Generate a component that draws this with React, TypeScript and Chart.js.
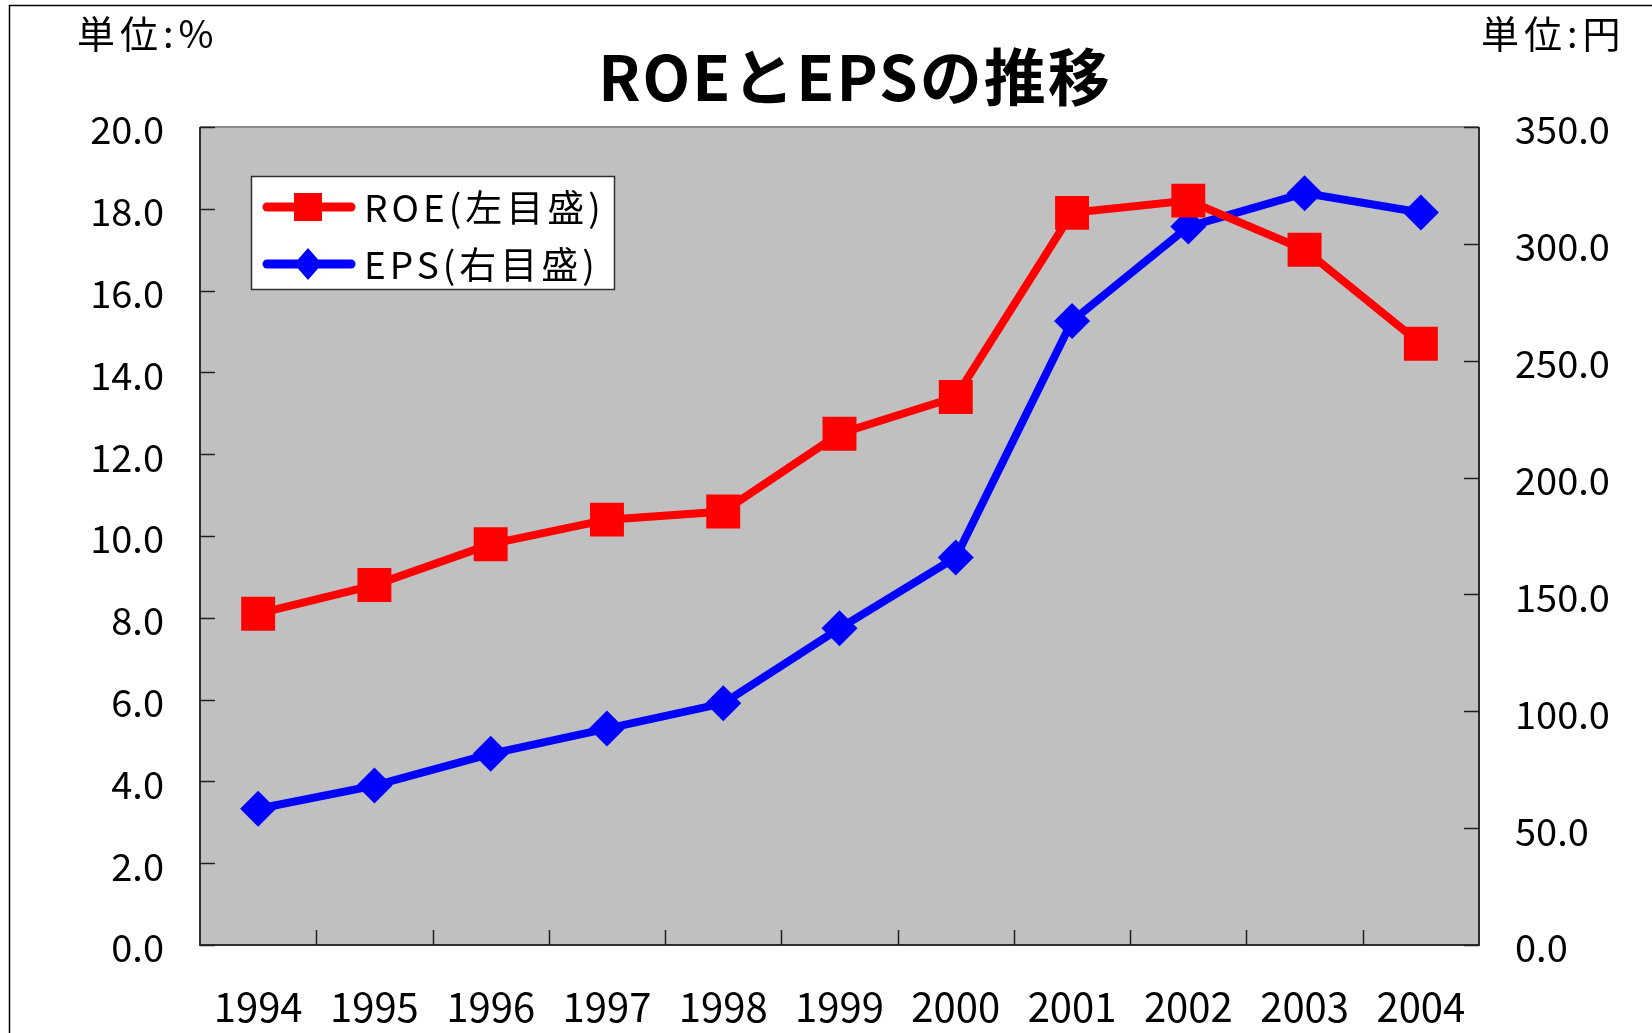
import React, { useEffect, useRef } from 'react';
import { Chart, registerables } from 'chart.js';

Chart.register(...registerables);

const years = ['1994', '1995', '1996', '1997', '1998', '1999', '2000', '2001', '2002', '2003', '2004'];
const roeValues = [8.1, 8.8, 9.8, 10.4, 10.6, 12.5, 13.4, 17.9, 18.2, 17.0, 14.7];
const epsValues = [58.3, 68.2, 81.8, 92.6, 103.4, 135.5, 165.8, 267.0, 307.4, 321.7, 313.4];
const titleText = 'ROEとEPSの推移';
const leftUnit = '単位:%';
const rightUnit = '単位:円';
const roeLabel = 'ROE(左目盛)';
const epsLabel = 'EPS(右目盛)';

const FONT = "'Noto Sans CJK JP', 'Noto Sans', sans-serif";
const RED = '#FF0000';
const BLUE = '#0000FF';

const decorPlugin = {
  id: 'decor',
  beforeDraw(chart: any) {
    const { ctx, chartArea: a } = chart;
    ctx.save();
    ctx.fillStyle = '#FFFFFF';
    ctx.fillRect(0, 0, chart.width, chart.height);
    ctx.fillStyle = '#C0C0C0';
    ctx.fillRect(a.left, a.top, a.right - a.left, a.bottom - a.top);
    ctx.restore();
  },
  beforeDatasetsDraw(chart: any) {
    const { ctx, chartArea: a, scales } = chart;
    ctx.save();
    // plot border
    ctx.lineWidth = 2;
    ctx.strokeStyle = '#8A8A8A';
    ctx.beginPath();
    ctx.moveTo(a.left, a.top);
    ctx.lineTo(a.right, a.top);
    ctx.stroke();
    ctx.strokeStyle = '#303030';
    ctx.beginPath();
    ctx.moveTo(a.left, a.top);
    ctx.lineTo(a.left, a.bottom);
    ctx.lineTo(a.right, a.bottom);
    ctx.lineTo(a.right, a.top);
    ctx.stroke();
    // inward tick marks
    ctx.lineWidth = 1.5;
    ctx.strokeStyle = '#202020';
    const tl = 15;
    ctx.beginPath();
    scales.y.ticks.forEach((t: any) => {
      const p = Math.round(scales.y.getPixelForValue(t.value)) + 0.5;
      ctx.moveTo(a.left, p);
      ctx.lineTo(a.left + tl, p);
    });
    scales.y1.ticks.forEach((t: any) => {
      const p = Math.round(scales.y1.getPixelForValue(t.value)) + 0.5;
      ctx.moveTo(a.right, p);
      ctx.lineTo(a.right - tl, p);
    });
    const xs = scales.x;
    for (let i = 1; i < years.length; i++) {
      const p = Math.round((xs.getPixelForTick(i - 1) + xs.getPixelForTick(i)) / 2) + 0.5;
      ctx.moveTo(p, a.bottom);
      ctx.lineTo(p, a.bottom - tl);
    }
    ctx.stroke();
    ctx.restore();
  },
  afterDraw(chart: any) {
    const { ctx } = chart;
    ctx.save();
    // outer border
    ctx.strokeStyle = '#000000';
    ctx.lineWidth = 1.5;
    ctx.beginPath();
    ctx.moveTo(9.5, chart.height);
    ctx.lineTo(9.5, 5.5);
    ctx.lineTo(chart.width, 5.5);
    ctx.stroke();

    // title
    ctx.fillStyle = '#000000';
    ctx.textBaseline = 'middle';
    ctx.textAlign = 'center';
    ctx.font = `bold 62px ${FONT}`;
    (ctx as any).letterSpacing = '2px';
    ctx.fillText(titleText, 855, 77);

    // units
    ctx.font = `38px ${FONT}`;
    (ctx as any).letterSpacing = '5px';
    ctx.textAlign = 'left';
    ctx.fillText(leftUnit, 77, 34);
    ctx.fillText(rightUnit, 1481, 34);

    // legend
    const lx = 251.5, ly = 176.5, lw = 363, lh = 113;
    ctx.fillStyle = '#FFFFFF';
    ctx.fillRect(lx, ly, lw, lh);
    ctx.strokeStyle = '#303030';
    ctx.lineWidth = 1.5;
    ctx.strokeRect(lx, ly, lw, lh);
    const items = [
      { label: roeLabel, color: RED, shape: 'rect', y: 207 },
      { label: epsLabel, color: BLUE, shape: 'diamond', y: 264 },
    ];
    items.forEach((it) => {
      ctx.strokeStyle = it.color;
      ctx.lineWidth = 9;
      ctx.lineCap = 'round';
      ctx.beginPath();
      ctx.moveTo(267, it.y);
      ctx.lineTo(351, it.y);
      ctx.stroke();
      ctx.fillStyle = it.color;
      const cx = 308;
      if (it.shape === 'rect') {
        ctx.fillRect(cx - 14, it.y - 14, 28, 28);
      } else {
        ctx.beginPath();
        ctx.moveTo(cx, it.y - 16);
        ctx.lineTo(cx + 14, it.y);
        ctx.lineTo(cx, it.y + 16);
        ctx.lineTo(cx - 14, it.y);
        ctx.closePath();
        ctx.fill();
      }
      ctx.fillStyle = '#000000';
      ctx.font = `37px ${FONT}`;
      (ctx as any).letterSpacing = '4px';
      ctx.textAlign = 'left';
      ctx.textBaseline = 'middle';
      ctx.fillText(it.label, 364, it.y + 1);
    });
    ctx.restore();
  },
};

export default function App() {
  const ref = useRef<HTMLCanvasElement | null>(null);
  useEffect(() => {
    if (!ref.current) return;
    const chart = new Chart(ref.current, {
      type: 'line',
      data: {
        labels: years,
        datasets: [
          {
            label: roeLabel,
            data: roeValues,
            yAxisID: 'y',
            borderColor: RED,
            backgroundColor: RED,
            borderWidth: 8,
            pointStyle: 'rect',
            pointRadius: 24,
            pointHoverRadius: 24,
            pointBackgroundColor: RED,
            pointBorderColor: RED,
            pointBorderWidth: 0,
            tension: 0,
          },
          {
            label: epsLabel,
            data: epsValues,
            yAxisID: 'y1',
            borderColor: BLUE,
            backgroundColor: BLUE,
            borderWidth: 8,
            pointStyle: 'rectRot',
            pointRadius: 18,
            pointHoverRadius: 18,
            pointBackgroundColor: BLUE,
            pointBorderColor: BLUE,
            pointBorderWidth: 0,
            tension: 0,
          },
        ],
      },
      options: {
        animation: false,
        responsive: false,
        maintainAspectRatio: false,
        devicePixelRatio: 1,
        layout: { padding: { top: 127, left: 0, right: 0, bottom: 0 } },
        plugins: {
          legend: { display: false },
          title: { display: false },
          tooltip: { enabled: false },
        },
        scales: {
          x: {
            type: 'category',
            offset: true,
            grid: { display: false, drawTicks: false },
            border: { display: false },
            ticks: {
              color: '#000000',
              font: { family: FONT, size: 40 },
              padding: 38,
              maxRotation: 0,
              autoSkip: false,
            },
            afterFit: (s: any) => { s.height = 88; },
          },
          y: {
            position: 'left',
            min: 0,
            max: 20,
            grid: { display: false, drawTicks: false },
            border: { display: false },
            ticks: {
              stepSize: 2,
              color: '#000000',
              font: { family: FONT, size: 38 },
              padding: 36,
              labelOffset: 3,
              callback: (v: any) => Number(v).toFixed(1),
            },
            afterFit: (s: any) => { s.width = 200; },
          },
          y1: {
            position: 'right',
            min: 0,
            max: 350,
            grid: { display: false, drawTicks: false },
            border: { display: false },
            ticks: {
              stepSize: 50,
              color: '#000000',
              font: { family: FONT, size: 38 },
              padding: 36,
              labelOffset: 3,
              callback: (v: any) => Number(v).toFixed(1),
            },
            afterFit: (s: any) => { s.width = 173; },
          },
        },
      },
      plugins: [decorPlugin],
    } as any);
    return () => chart.destroy();
  }, []);
  return (
    <div style={{ position: 'absolute', left: 0, top: 0, width: 1652, height: 1033 }}>
      <canvas ref={ref} width={1652} height={1033} style={{ display: 'block', width: 1652, height: 1033 }} />
    </div>
  );
}
